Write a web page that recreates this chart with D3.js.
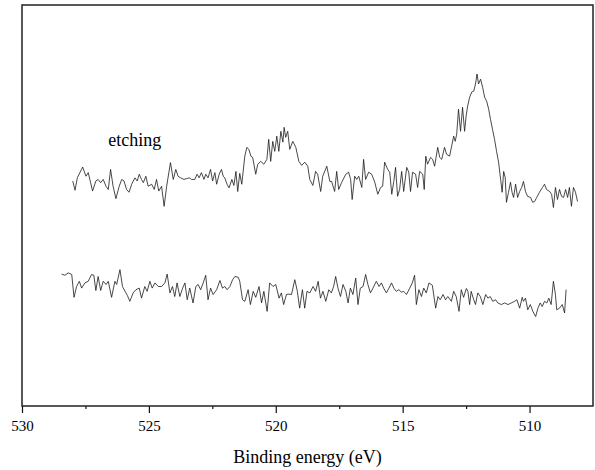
<!DOCTYPE html>
<html>
<head>
<meta charset="utf-8">
<script src="https://cdn.jsdelivr.net/npm/d3@7"></script>
<style>
  body { margin: 0; background: #fff; }
  svg, svg text { font-family: "Liberation Serif", "DejaVu Serif", "Times New Roman", Times, serif; }
</style>
</head>
<body>
<div id="chart"></div>
<script>
// XPS spectra, binding energy (eV) vs intensity (arb. units)
const majorTicks = [530, 525, 520, 515, 510];
const minorTicks = [527.5, 522.5, 517.5, 512.5];

const topEnergy = [528.00,527.91,527.82,527.61,527.48,527.39,527.30,527.22,527.09,527.00,526.90,526.80,526.69,526.60,526.51,526.41,526.30,526.17,526.07,525.98,
  525.88,525.78,525.68,525.55,525.46,525.38,525.29,525.22,525.12,525.03,524.89,524.79,524.70,524.61,524.50,524.40,524.30,524.15,524.04,523.94,
  523.85,523.75,523.62,523.52,523.41,523.32,523.19,523.10,523.02,522.93,522.83,522.76,522.67,522.57,522.49,522.40,522.33,522.23,522.14,522.07,
  522.01,521.92,521.84,521.73,521.65,521.57,521.50,521.42,521.34,521.22,521.14,521.06,520.98,520.91,520.79,520.71,520.59,520.47,520.35,520.28,
  520.20,520.12,520.04,519.96,519.88,519.80,519.72,519.67,519.61,519.53,519.45,519.33,519.21,519.09,518.98,518.86,518.74,518.66,518.54,518.43,
  518.35,518.23,518.15,517.99,517.87,517.80,517.68,517.60,517.52,517.40,517.24,517.13,517.05,516.99,516.89,516.81,516.73,516.61,516.54,516.46,
  516.34,516.22,516.10,515.98,515.87,515.79,515.71,515.59,515.51,515.43,515.35,515.28,515.20,515.12,515.04,514.96,514.84,514.76,514.69,514.61,
  514.49,514.41,514.33,514.21,514.15,514.09,514.02,513.90,513.82,513.74,513.62,513.54,513.46,513.35,513.27,513.15,513.07,512.99,512.93,512.87,
  512.80,512.72,512.64,512.56,512.50,512.44,512.36,512.28,512.20,512.13,512.07,512.01,511.93,511.85,511.77,511.69,511.61,511.54,511.46,511.38,
  511.30,511.22,511.14,511.08,511.02,510.96,510.91,510.83,510.75,510.69,510.63,510.55,510.47,510.39,510.31,510.24,510.16,510.08,509.96,509.88,
  509.80,509.72,509.61,509.49,509.41,509.33,509.21,509.13,509.06,508.98,508.90,508.82,508.74,508.66,508.58,508.50,508.43,508.35,508.27,508.19,
  508.11];
const topIntensity = [56.1,53.8,56.9,59.6,57.3,58.2,55.8,53.6,56.1,56.5,55.7,56.5,54.8,54.0,59.0,54.8,51.7,54.8,56.5,56.1,
  54.0,53.3,55.3,56.9,56.1,57.8,56.5,55.7,57.3,54.8,55.3,54.0,56.5,53.6,54.8,49.8,54.8,60.7,56.5,59.0,
  57.3,56.9,56.5,56.7,56.9,56.5,56.5,57.8,56.9,58.2,56.5,57.8,56.9,59.0,56.1,58.2,55.3,57.8,59.0,57.3,
  56.9,55.3,54.4,56.5,55.0,58.5,53.5,58.0,55.3,62.3,64.5,64.0,62.3,62.0,57.8,60.3,61.0,60.3,61.5,66.5,
  61.0,66.0,63.5,67.3,63.5,68.5,65.8,69.5,67.0,68.5,64.0,66.0,64.5,61.0,60.0,60.8,59.8,56.5,55.0,58.5,
  57.8,53.5,57.3,59.8,56.0,56.0,53.5,58.5,54.0,55.8,57.8,58.3,56.5,51.5,57.3,56.5,57.3,54.5,61.5,56.5,
  58.3,57.8,55.8,52.8,54.5,54.8,60.8,59.0,58.3,52.8,56.0,59.5,52.3,54.0,58.5,53.5,59.5,58.3,53.5,58.3,
  57.8,54.5,58.5,57.8,54.0,62.3,60.3,62.0,61.5,59.8,64.5,62.0,61.5,64.5,62.8,62.3,64.8,67.3,66.0,67.8,
  74.0,68.5,74.5,68.5,72.3,74.8,77.0,78.3,78.5,80.3,82.8,80.3,81.5,79.5,77.0,76.0,74.0,71.5,69.0,66.5,
  63.5,60.8,56.5,53.3,58.5,57.0,50.8,53.3,55.8,53.3,52.0,55.3,52.0,53.5,54.5,56.0,53.5,52.3,52.0,50.8,
  51.0,52.0,53.3,54.5,55.3,54.0,53.5,52.8,49.5,54.5,51.5,54.0,52.3,52.0,54.0,52.0,54.5,49.8,54.5,53.3,
  51.0];

const bottomEnergy = [528.44,528.31,528.18,528.04,527.95,527.85,527.74,527.65,527.52,527.39,527.26,527.17,527.09,527.00,526.90,526.80,526.69,526.60,526.47,526.34,
  526.27,526.14,526.04,525.94,525.85,525.75,525.62,525.51,525.38,525.29,525.16,525.07,524.96,524.87,524.76,524.63,524.50,524.37,524.28,524.17,
  524.07,523.98,523.89,523.78,523.67,523.58,523.49,523.39,523.26,523.15,523.06,522.96,522.86,522.76,522.67,522.57,522.47,522.33,522.20,522.10,
  522.01,521.92,521.81,521.70,521.61,521.48,521.42,521.31,521.22,521.09,521.00,520.89,520.79,520.66,520.56,520.47,520.34,520.24,520.11,520.00,
  519.87,519.78,519.69,519.58,519.48,519.38,519.25,519.15,519.06,518.95,518.86,518.77,518.66,518.53,518.43,518.33,518.24,518.14,518.03,517.91,
  517.81,517.72,517.64,517.55,517.45,517.35,517.24,517.15,517.06,516.96,516.85,516.76,516.67,516.56,516.46,516.37,516.27,516.17,516.04,515.93,
  515.84,515.75,515.64,515.54,515.44,515.35,515.25,515.15,515.05,514.96,514.85,514.72,514.62,514.53,514.46,514.36,514.26,514.17,514.07,513.96,
  513.83,513.70,513.61,513.52,513.41,513.31,513.22,513.08,512.99,512.89,512.78,512.69,512.60,512.49,512.43,512.36,512.30,512.20,512.13,512.04,
  511.94,511.84,511.73,511.64,511.55,511.45,511.34,511.25,511.11,510.98,510.85,510.72,510.59,510.50,510.39,510.29,510.24,510.16,510.07,509.97,
  509.87,509.76,509.67,509.58,509.50,509.41,509.32,509.24,509.15,509.06,508.98,508.93,508.82,508.71,508.62,508.56];
const bottomIntensity = [32.9,32.6,33.2,32.8,27.1,29.8,31.1,29.4,30.7,31.1,32.8,32.6,28.8,32.3,28.8,31.1,30.3,31.1,27.1,31.1,
  30.3,34.0,29.8,28.6,27.6,26.1,28.2,29.0,29.4,26.9,29.8,28.6,31.1,29.4,30.7,29.8,29.8,30.7,32.9,28.2,
  29.8,27.3,30.7,27.3,29.4,30.7,26.5,29.4,25.7,29.8,30.3,29.0,30.7,32.6,26.5,29.4,27.8,29.0,31.3,29.4,
  29.8,29.0,29.8,31.5,32.3,32.1,31.1,26.5,26.1,29.0,25.3,28.6,27.1,29.8,25.7,28.6,23.6,30.7,29.8,30.3,
  26.9,28.2,25.3,27.8,27.9,27.8,31.5,28.6,24.4,29.0,24.4,28.6,28.2,29.8,28.6,31.1,26.9,28.6,26.1,29.0,
  28.2,29.8,32.3,29.4,27.3,30.3,28.6,25.7,29.4,27.8,31.9,25.3,29.4,29.8,32.8,30.3,28.2,29.4,31.1,29.8,
  30.7,29.4,28.2,29.4,30.7,29.4,28.6,29.0,28.4,28.6,27.8,29.4,30.7,32.6,25.3,29.0,27.3,29.4,28.2,30.7,
  30.1,24.4,27.3,26.5,27.8,26.5,27.3,26.1,28.6,27.3,23.6,29.0,27.1,29.3,28.6,25.3,28.6,26.5,25.3,28.2,
  27.3,25.3,27.8,26.9,27.3,26.1,26.5,25.7,25.3,25.7,25.3,25.7,26.1,26.5,24.4,27.1,26.1,26.9,24.0,25.3,
  23.6,22.3,24.4,25.7,24.8,26.1,25.7,26.9,25.3,31.1,27.8,24.0,24.4,25.3,23.2,29.0];

const serif = "'Liberation Serif', 'DejaVu Serif', 'Times New Roman', Times, serif";
const W = 595, H = 470;
const margin = { top: 5, right: 2, bottom: 64, left: 22 },
  width = W - margin.left - margin.right,
  height = H - margin.top - margin.bottom;

const svg = d3.select("#chart")
  .append("svg")
  .attr("width", W)
  .attr("height", H)
  .attr("font-family", serif);

const g = svg.append("g")
  .attr("transform", `translate(${margin.left},${margin.top})`);

const x = d3.scaleLinear()
  .domain([530, 507.5])
  .range([0, width]);

const y = d3.scaleLinear()
  .domain([0, 100])
  .range([height, 0]);

const line = d3.line()
  .x(d => x(d[0]))
  .y(d => y(d[1]));

const series = [
  d3.zip(topEnergy, topIntensity),
  d3.zip(bottomEnergy, bottomIntensity)
];

g.selectAll("path.spectrum")
  .data(series)
  .join("path")
  .attr("class", "spectrum")
  .attr("fill", "none")
  .attr("stroke", "#1a1a1a")
  .attr("stroke-width", 0.8)
  .attr("stroke-linejoin", "round")
  .attr("d", line);

// minor ticks
g.append("g")
  .attr("transform", `translate(0,${height})`)
  .call(d3.axisBottom(x).tickValues(minorTicks).tickSize(3).tickFormat(""))
  .call(a => a.select(".domain").remove())
  .selectAll("line").attr("stroke", "#111").attr("stroke-width", 1.2);

// major ticks
const xAxis = g.append("g")
  .attr("transform", `translate(0,${height})`)
  .call(d3.axisBottom(x).tickValues(majorTicks).tickSize(7).tickPadding(7).tickFormat(d3.format("d")));
xAxis.attr("font-family", serif).attr("font-size", 15);
xAxis.select(".domain").remove();
xAxis.selectAll("line").attr("stroke", "#111").attr("stroke-width", 1.2);
xAxis.selectAll("text").attr("fill", "#000");

// frame
g.append("rect")
  .attr("width", width)
  .attr("height", height)
  .attr("fill", "none")
  .attr("stroke", "#222")
  .attr("stroke-width", 1.5);

g.append("text")
  .attr("x", width / 2)
  .attr("y", height + 57)
  .attr("text-anchor", "middle")
  .attr("font-family", serif)
  .attr("font-size", 18)
  .text("Binding energy (eV)");

g.append("text")
  .attr("x", x(526.6))
  .attr("y", y(64.8))
  .attr("font-family", serif)
  .attr("font-size", 18)
  .text("etching");
</script>
</body>
</html>
